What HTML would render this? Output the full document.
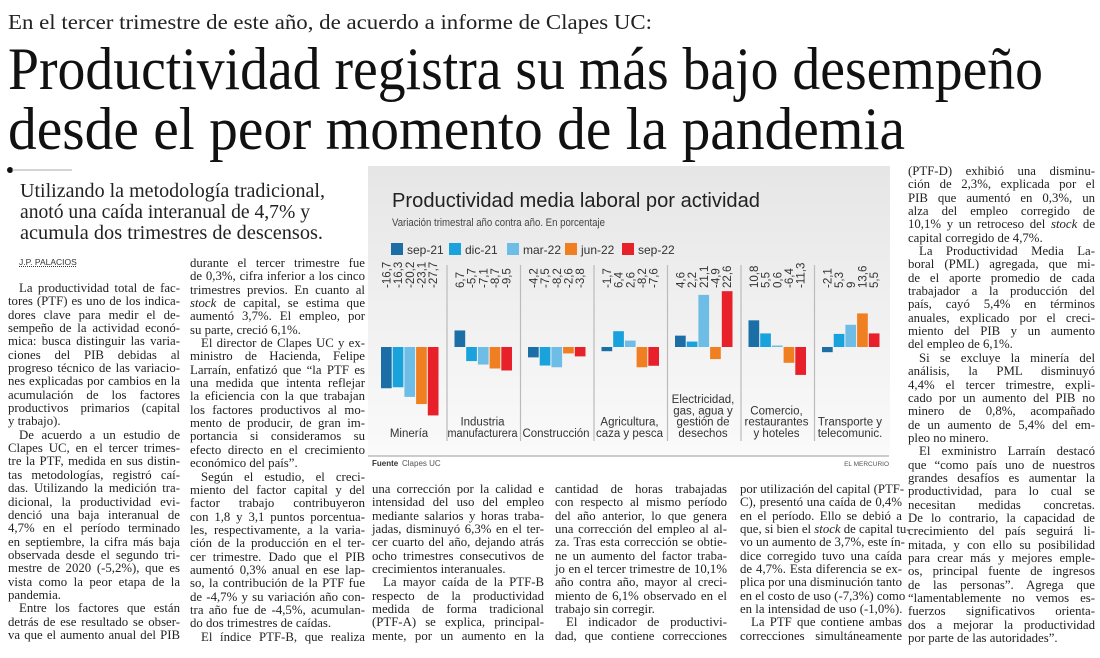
<!DOCTYPE html>
<html><head><meta charset="utf-8">
<style>
html,body{margin:0;padding:0;background:#fff;}
body{width:1100px;height:658px;position:relative;overflow:hidden;font-family:"Liberation Serif",serif;color:#222;}
.col{position:absolute;font-size:12.8px;line-height:13.35px;}
.l{height:13.35px;text-align:justify;text-align-last:justify;white-space:nowrap;}
.l.e{text-align-last:left;}
.l.p{padding-left:11px;}
.by{font-family:"Liberation Sans",sans-serif;font-size:8.5px;text-decoration:underline;text-decoration-style:dotted;color:#333;}
</style></head>
<body>
<svg width="1100" height="250" style="position:absolute;left:0;top:0">
  <text x="8" y="29" font-family="Liberation Serif" font-size="21" fill="#222" textLength="644" lengthAdjust="spacingAndGlyphs">En el tercer trimestre de este año, de acuerdo a informe de Clapes UC:</text>
  <text x="8" y="89" font-family="Liberation Serif" font-size="60" fill="#111" textLength="1035" lengthAdjust="spacingAndGlyphs">Productividad registra su más bajo desempeño</text>
  <text x="8" y="149" font-family="Liberation Serif" font-size="60" fill="#111" textLength="897" lengthAdjust="spacingAndGlyphs">desde el peor momento de la pandemia</text>
  <circle cx="10" cy="170" r="3" fill="#111"/>
  <line x1="12" y1="170" x2="72" y2="170" stroke="#aaa" stroke-width="1"/>
  <text x="20" y="197" font-family="Liberation Serif" font-size="20" fill="#222" textLength="305" lengthAdjust="spacingAndGlyphs">Utilizando la metodología tradicional,</text>
  <text x="20" y="218" font-family="Liberation Serif" font-size="20" fill="#222" textLength="290" lengthAdjust="spacingAndGlyphs">anotó una caída interanual de 4,7% y</text>
  <text x="20" y="239" font-family="Liberation Serif" font-size="20" fill="#222" textLength="303" lengthAdjust="spacingAndGlyphs">acumula dos trimestres de descensos.</text>
</svg>

<div class="col" style="left:8px;top:256px;width:172px;">
<div class="by" style="height:26px;padding-left:11px;">J.P. PALACIOS</div>
<div class="l p">La productividad total de fac-</div>
<div class="l">tores (PTF) es uno de los indica-</div>
<div class="l">dores clave para medir el de-</div>
<div class="l">sempeño de la actividad econó-</div>
<div class="l">mica: busca distinguir las varia-</div>
<div class="l">ciones del PIB debidas al</div>
<div class="l">progreso técnico de las variacio-</div>
<div class="l">nes explicadas por cambios en la</div>
<div class="l">acumulación de los factores</div>
<div class="l">productivos primarios (capital</div>
<div class="l e">y trabajo).</div>
<div class="l p">De acuerdo a un estudio de</div>
<div class="l">Clapes UC, en el tercer trimes-</div>
<div class="l">tre la PTF, medida en sus distin-</div>
<div class="l">tas metodologías, registró caí-</div>
<div class="l">das. Utilizando la medición tra-</div>
<div class="l">dicional, la productividad evi-</div>
<div class="l">denció una baja interanual de</div>
<div class="l">4,7% en el período terminado</div>
<div class="l">en septiembre, la cifra más baja</div>
<div class="l">observada desde el segundo tri-</div>
<div class="l">mestre de 2020 (-5,2%), que es</div>
<div class="l">vista como la peor etapa de la</div>
<div class="l e">pandemia.</div>
<div class="l p">Entre los factores que están</div>
<div class="l">detrás de ese resultado se obser-</div>
<div class="l">va que el aumento anual del PIB</div>
</div>

<div class="col" style="left:190px;top:257px;width:175px;">
<div class="l">durante el tercer trimestre fue</div>
<div class="l">de 0,3%, cifra inferior a los cinco</div>
<div class="l">trimestres previos. En cuanto al</div>
<div class="l"><i>stock</i> de capital, se estima que</div>
<div class="l">aumentó 3,7%. El empleo, por</div>
<div class="l e">su parte, creció 6,1%.</div>
<div class="l p">El director de Clapes UC y ex-</div>
<div class="l">ministro de Hacienda, Felipe</div>
<div class="l">Larraín, enfatizó que “la PTF es</div>
<div class="l">una medida que intenta reflejar</div>
<div class="l">la eficiencia con la que trabajan</div>
<div class="l">los factores productivos al mo-</div>
<div class="l">mento de producir, de gran im-</div>
<div class="l">portancia si consideramos su</div>
<div class="l">efecto directo en el crecimiento</div>
<div class="l e">económico del país”.</div>
<div class="l p">Según el estudio, el creci-</div>
<div class="l">miento del factor capital y del</div>
<div class="l">factor trabajo contribuyeron</div>
<div class="l">con 1,8 y 3,1 puntos porcentua-</div>
<div class="l">les, respectivamente, a la varia-</div>
<div class="l">ción de la producción en el ter-</div>
<div class="l">cer trimestre. Dado que el PIB</div>
<div class="l">aumentó 0,3% anual en ese lap-</div>
<div class="l">so, la contribución de la PTF fue</div>
<div class="l">de -4,7% y su variación año con-</div>
<div class="l">tra año fue de -4,5%, acumulan-</div>
<div class="l e">do dos trimestres de caídas.</div>
<div class="l p">El índice PTF-B, que realiza</div>
</div>

<div class="col" style="left:372px;top:483px;width:172px;">
<div class="l">una corrección por la calidad e</div>
<div class="l">intensidad del uso del empleo</div>
<div class="l">mediante salarios y horas traba-</div>
<div class="l">jadas, disminuyó 6,3% en el ter-</div>
<div class="l">cer cuarto del año, dejando atrás</div>
<div class="l">ocho trimestres consecutivos de</div>
<div class="l e">crecimientos interanuales.</div>
<div class="l p">La mayor caída de la PTF-B</div>
<div class="l">respecto de la productividad</div>
<div class="l">medida de forma tradicional</div>
<div class="l">(PTF-A) se explica, principal-</div>
<div class="l">mente, por un aumento en la</div>
</div>

<div class="col" style="left:555px;top:483px;width:172px;">
<div class="l">cantidad de horas trabajadas</div>
<div class="l">con respecto al mismo período</div>
<div class="l">del año anterior, lo que genera</div>
<div class="l">una corrección del empleo al al-</div>
<div class="l">za. Tras esta corrección se obtie-</div>
<div class="l">ne un aumento del factor traba-</div>
<div class="l">jo en el tercer trimestre de 10,1%</div>
<div class="l">año contra año, mayor al creci-</div>
<div class="l">miento de 6,1% observado en el</div>
<div class="l e">trabajo sin corregir.</div>
<div class="l p">El indicador de productivi-</div>
<div class="l">dad, que contiene correcciones</div>
</div>

<div class="col" style="left:740px;top:483px;width:162px;">
<div class="l">por utilización del capital (PTF-</div>
<div class="l">C), presentó una caída de 0,4%</div>
<div class="l">en el período. Ello se debió a</div>
<div class="l">que, si bien el <i>stock</i> de capital tu-</div>
<div class="l">vo un aumento de 3,7%, este ín-</div>
<div class="l">dice corregido tuvo una caída</div>
<div class="l">de 4,7%. Esta diferencia se ex-</div>
<div class="l">plica por una disminución tanto</div>
<div class="l">en el costo de uso (-7,3%) como</div>
<div class="l e">en la intensidad de uso (-1,0%).</div>
<div class="l p">La PTF que contiene ambas</div>
<div class="l">correcciones simultáneamente</div>
</div>

<div class="col" style="left:908px;top:165px;width:187px;">
<div class="l">(PTF-D) exhibió una disminu-</div>
<div class="l">ción de 2,3%, explicada por el</div>
<div class="l">PIB que aumentó en 0,3%, un</div>
<div class="l">alza del empleo corregido de</div>
<div class="l">10,1% y un retroceso del <i>stock</i> de</div>
<div class="l e">capital corregido de 4,7%.</div>
<div class="l p">La Productividad Media La-</div>
<div class="l">boral (PML) agregada, que mi-</div>
<div class="l">de el aporte promedio de cada</div>
<div class="l">trabajador a la producción del</div>
<div class="l">país, cayó 5,4% en términos</div>
<div class="l">anuales, explicado por el creci-</div>
<div class="l">miento del PIB y un aumento</div>
<div class="l e">del empleo de 6,1%.</div>
<div class="l p">Si se excluye la minería del</div>
<div class="l">análisis, la PML disminuyó</div>
<div class="l">4,4% el tercer trimestre, expli-</div>
<div class="l">cado por un aumento del PIB no</div>
<div class="l">minero de 0,8%, acompañado</div>
<div class="l">de un aumento de 5,4% del em-</div>
<div class="l e">pleo no minero.</div>
<div class="l p">El exministro Larraín destacó</div>
<div class="l">que “como país uno de nuestros</div>
<div class="l">grandes desafíos es aumentar la</div>
<div class="l">productividad, para lo cual se</div>
<div class="l">necesitan medidas concretas.</div>
<div class="l">De lo contrario, la capacidad de</div>
<div class="l">crecimiento del país seguirá li-</div>
<div class="l">mitada, y con ello su posibilidad</div>
<div class="l">para crear más y mejores emple-</div>
<div class="l">os, principal fuente de ingresos</div>
<div class="l">de las personas”. Agrega que</div>
<div class="l">“lamentablemente no vemos es-</div>
<div class="l">fuerzos significativos orienta-</div>
<div class="l">dos a mejorar la productividad</div>
<div class="l e">por parte de las autoridades”.</div>
</div>

<svg id="chart" width="1100" height="658" style="position:absolute;left:0;top:0;pointer-events:none" font-family="Liberation Sans, sans-serif">
  <defs>
    <linearGradient id="bg" x1="0" y1="0" x2="0" y2="1">
      <stop offset="0" stop-color="#e6e6e6"/><stop offset="1" stop-color="#fafafa"/>
    </linearGradient>
  </defs>
  <rect x="368" y="166" width="522" height="289" fill="url(#bg)"/>
  <text x="392" y="207" font-size="20" fill="#222" textLength="368" lengthAdjust="spacingAndGlyphs">Productividad media laboral por actividad</text>
  <text x="392" y="226" font-size="11" fill="#444" textLength="213" lengthAdjust="spacingAndGlyphs">Variación trimestral año contra año. En porcentaje</text>
  <line x1="368" y1="456" x2="889" y2="456" stroke="#999" stroke-width="1"/>
  <text x="372" y="466" font-size="8" font-weight="bold" fill="#333">Fuente</text>
  <text x="402" y="466" font-size="8" fill="#555">Clapes UC</text>
  <text x="889" y="466" font-size="6.5" fill="#555" text-anchor="end">EL MERCURIO</text>
  <g id="marks"></g>
</svg>

<script>
const categories = [["Minería"],["Industria","manufacturera"],["Construcción"],["Agricultura,","caza y pesca"],["Electricidad,","gas, agua y","gestión de","desechos"],["Comercio,","restaurantes","y hoteles"],["Transporte y","telecomunic."]];
const seriesNames = ["sep-21","dic-21","mar-22","jun-22","sep-22"];
const sep21 = [-16.7, 6.7, -4.2, -1.7, 4.6, 10.8, -2.1];
const dic21 = [-16.3, -5.7, -7.5, 6.4, 2.2, 5.5, 5.3];
const mar22 = [-20.2, -7.1, -8.2, 2.6, 21.1, 0.6, 9];
const jun22 = [-23.1, -8.7, -2.6, -8.2, -4.9, -6.4, 13.6];
const sep22 = [-27.7, -9.5, -3.8, -7.6, 22.6, -11.3, 5.5];

const series = [sep21, dic21, mar22, jun22, sep22];
const colors = ["#1b6ea6","#19a2dc","#6dbde6","#f07f22","#e8202a"];
const NS = "http://www.w3.org/2000/svg";
const g = document.getElementById("marks");
const zeroY = 347, pxPerUnit = 2.47;
function y(v){ return zeroY - v * pxPerUnit; }
function gx(i){ return 381 + i * 73.5; }
function bx(i, s){ return gx(i) + s * 11.7; }
const barW = 10.7;
function mk(tag, attrs){ const e = document.createElementNS(NS, tag); for (const k in attrs) e.setAttribute(k, attrs[k]); return e; }
function fmt(v){ return String(v).replace(".", ","); }

const legendX = [391, 449, 507, 565, 622];
seriesNames.forEach((n, s) => {
  const r = mk("rect", {x: legendX[s], y: 243, width: 12, height: 12, fill: colors[s]});
  
  
  g.appendChild(r);
  const t = mk("text", {x: legendX[s] + 16, y: 254, "font-size": 12, fill: "#333"});
  
  
  t.textContent = n;
  g.appendChild(t);
});

categories.forEach((cat, i) => {
  if (i > 0) {
    const ln = mk("line", {x1: gx(i) - 7.5, x2: gx(i) - 7.5, y1: 265, y2: 441, stroke: "#bbb", "stroke-width": 1.2});
    
    
    g.appendChild(ln);
  }
  series.forEach((arr, s) => {
    const v = arr[i];
    const top = Math.min(y(v), y(0)), h = Math.max(Math.abs(y(v) - y(0)), 1);
    const r = mk("rect", {x: bx(i, s), y: top, width: barW, height: h, fill: colors[s]});
    
    
    g.appendChild(r);
    const cx = bx(i, s) + barW / 2 + 4;
    const t = mk("text", {x: cx, y: 288, "font-size": 11.5, fill: "#333", transform: "rotate(-90 " + cx + " 288)"});
    
    
    t.textContent = fmt(v);
    g.appendChild(t);
  });
  const n = cat.length;
  cat.forEach((line, k) => {
    const t = mk("text", {x: gx(i) + 28, y: 437 - (n - 1 - k) * 11.3, "font-size": 11.5, fill: "#333", "text-anchor": "middle"});
    
    
    t.textContent = line;
    g.appendChild(t);
    if (t.getComputedTextLength && t.getComputedTextLength() > 70) {
      t.setAttribute('textLength', 70);
      t.setAttribute('lengthAdjust', 'spacingAndGlyphs');
    }
  });
});
</script>
</body></html>
